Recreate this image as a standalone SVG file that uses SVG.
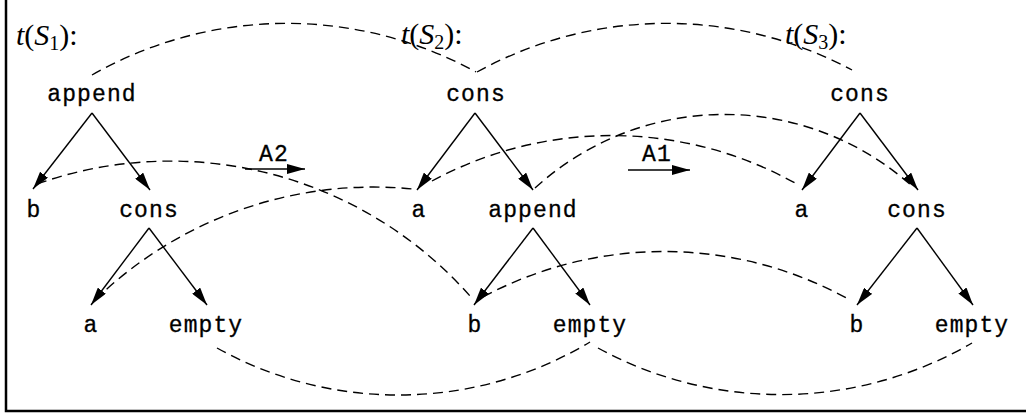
<svg xmlns="http://www.w3.org/2000/svg" width="1026" height="416" viewBox="0 0 1026 416">
<style>
.node{font-family:"Liberation Mono","DejaVu Sans Mono",monospace;font-size:23px;letter-spacing:1.1px;fill:#000;text-anchor:middle;stroke:#000;stroke-width:0.3}
.lab{font-family:"Liberation Serif","DejaVu Serif",serif;font-size:30px;fill:#000}
.sub{font-size:20px}
.edge{stroke:#000;stroke-width:1.4;fill:none;marker-end:url(#ah)}
.dash{stroke:#000;stroke-width:1.4;fill:none;stroke-dasharray:10 6}
.frame{stroke:#000;stroke-width:2.5;fill:none}
</style>
<defs>
<marker id="ah" markerUnits="userSpaceOnUse" markerWidth="18" markerHeight="10" viewBox="0 0 18 10" refX="18" refY="5" orient="auto">
<path d="M0,0 L18,5 L0,10 z" fill="#000"/>
</marker>
</defs>
<rect width="1026" height="416" fill="#fff"/>
<path class="frame" d="M6,0 V411 H1026"/>

<g id="labels">
<text class="lab" x="16" y="45"><tspan font-style="italic">t</tspan>(<tspan font-style="italic">S</tspan><tspan class="sub" dy="5">1</tspan><tspan dy="-5">):</tspan></text>
<text class="lab" x="401" y="44"><tspan font-style="italic">t</tspan>(<tspan font-style="italic">S</tspan><tspan class="sub" dy="5">2</tspan><tspan dy="-5">):</tspan></text>
<text class="lab" x="785" y="44"><tspan font-style="italic">t</tspan>(<tspan font-style="italic">S</tspan><tspan class="sub" dy="5">3</tspan><tspan dy="-5">):</tspan></text>
</g>

<g id="tree1">
<g id="t1-append"><text class="node" x="92" y="101">append</text></g>
<g id="t1-b"><text class="node" x="34" y="217">b</text></g>
<g id="t1-cons"><text class="node" x="149" y="217">cons</text></g>
<g id="t1-a"><text class="node" x="91" y="332">a</text></g>
<g id="t1-empty"><text class="node" x="206" y="332">empty</text></g>
</g>

<g id="tree2">
<g id="t2-cons"><text class="node" x="476" y="101">cons</text></g>
<g id="t2-a"><text class="node" x="419" y="217">a</text></g>
<g id="t2-append"><text class="node" x="533" y="217">append</text></g>
<g id="t2-b"><text class="node" x="475" y="332">b</text></g>
<g id="t2-empty"><text class="node" x="590" y="332">empty</text></g>
</g>

<g id="tree3">
<g id="t3-cons"><text class="node" x="860" y="101">cons</text></g>
<g id="t3-a"><text class="node" x="802" y="217">a</text></g>
<g id="t3-cons2"><text class="node" x="917" y="217">cons</text></g>
<g id="t3-b"><text class="node" x="857" y="332">b</text></g>
<g id="t3-empty"><text class="node" x="972" y="332">empty</text></g>
</g>

<g id="steps">
<text class="node" x="274" y="161" font-size="21">A2</text>
<line class="edge" x1="245" y1="169" x2="305" y2="169"/>
<text class="node" x="657" y="161" font-size="21">A1</text>
<line class="edge" x1="628" y1="170" x2="690" y2="170"/>
</g>

<g id="connectors">
<line class="edge" x1="92" y1="113" x2="33" y2="189"/>
<line class="edge" x1="92" y1="113" x2="150" y2="190"/>
<line class="edge" x1="149" y1="228" x2="91" y2="305"/>
<line class="edge" x1="149" y1="228" x2="207" y2="305"/>

<line class="edge" x1="475" y1="113" x2="417" y2="190"/>
<line class="edge" x1="475" y1="113" x2="533" y2="190"/>
<line class="edge" x1="533" y1="228" x2="474" y2="305"/>
<line class="edge" x1="533" y1="228" x2="590" y2="305"/>

<line class="edge" x1="860" y1="113" x2="802" y2="190"/>
<line class="edge" x1="860" y1="113" x2="918" y2="190"/>
<line class="edge" x1="917" y1="228" x2="857" y2="305"/>
<line class="edge" x1="917" y1="228" x2="973" y2="305"/>
</g>

<g id="correspondences">
<path class="dash" d="M92,75 A393,393 0 0 1 476,72"/>
<path class="dash" d="M477,72 A393,393 0 0 1 852,70"/>
<path class="dash" d="M37,184 A400,400 0 0 1 470,296"/>
<path class="dash" d="M95,300 A400,400 0 0 1 413,189"/>
<path class="dash" d="M432,181 A378,378 0 0 1 795,183"/>
<path class="dash" d="M535,188 A281,281 0 0 1 913,187"/>
<path class="dash" d="M483,297 A382,382 0 0 1 850,300"/>
<path class="dash" d="M217,348 A373,373 0 0 0 590,342"/>
<path class="dash" d="M598,348 A381,381 0 0 0 972,343"/>
</g>
</svg>
